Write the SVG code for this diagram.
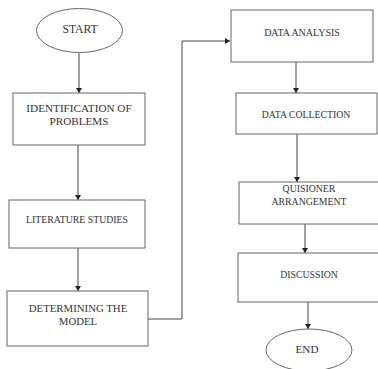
<svg xmlns="http://www.w3.org/2000/svg" width="378" height="369" viewBox="0 0 378 369">
<defs>
<style>
.box{fill:#fff;stroke:#666;stroke-width:1}
.t{font-family:"Liberation Serif","Times New Roman",serif;font-size:9.8px;fill:#333;text-anchor:middle}
.l{font-size:11.2px}
.c{fill:none;stroke:#444;stroke-width:1}
</style>
<marker id="ah" markerWidth="6" markerHeight="6" refX="5" refY="3" orient="auto" markerUnits="userSpaceOnUse">
<path d="M0,0 L5,3 L0,6 Z" fill="#222"/>
</marker>
</defs>
<rect width="378" height="369" fill="#fff"/>
<g id="connectors">
<line class="c" x1="79" y1="53" x2="79" y2="93" marker-end="url(#ah)"/>
<line class="c" x1="78" y1="145" x2="78" y2="200" marker-end="url(#ah)"/>
<line class="c" x1="78" y1="248" x2="78" y2="291" marker-end="url(#ah)"/>
<polyline class="c" points="148,319 182,319 182,41 230,41" marker-end="url(#ah)"/>
<line class="c" x1="296" y1="62" x2="296" y2="93" marker-end="url(#ah)"/>
<line class="c" x1="297" y1="134" x2="297" y2="182" marker-end="url(#ah)"/>
<line class="c" x1="305" y1="224" x2="305" y2="253" marker-end="url(#ah)"/>
<line class="c" x1="308" y1="302" x2="308" y2="329" marker-end="url(#ah)"/>
</g>
<g id="start">
<ellipse class="box" cx="79.5" cy="30.5" rx="43" ry="22"/>
<text class="t" x="80" y="33" style="font-size:11.6px">START</text>
</g>
<g id="identification">
<rect class="box" x="13" y="93" width="132" height="52"/>
<text class="t l" x="79" y="112">IDENTIFICATION OF</text>
<text class="t l" x="79" y="125">PROBLEMS</text>
</g>
<g id="literature">
<rect class="box" x="9" y="200" width="136" height="48"/>
<text class="t" x="77" y="223">LITERATURE STUDIES</text>
</g>
<g id="model">
<rect class="box" x="7" y="291" width="141" height="55"/>
<text class="t" x="78" y="312" style="font-size:10.8px">DETERMINING THE</text>
<text class="t" x="78" y="325" style="font-size:10.8px">MODEL</text>
</g>
<g id="analysis">
<rect class="box" x="231" y="10" width="142" height="52"/>
<text class="t" x="302" y="36" style="font-size:10px">DATA ANALYSIS</text>
</g>
<g id="collection">
<rect class="box" x="236" y="93" width="141" height="41"/>
<text class="t" x="306" y="118">DATA COLLECTION</text>
</g>
<g id="quisioner">
<rect class="box" x="239" y="182" width="145" height="42"/>
<text class="t" x="309" y="192">QUISIONER</text>
<text class="t" x="309" y="205">ARRANGEMENT</text>
</g>
<g id="discussion">
<rect class="box" x="238" y="253" width="146" height="49"/>
<text class="t" x="309" y="278">DISCUSSION</text>
</g>
<g id="end">
<ellipse class="box" cx="309" cy="350" rx="43" ry="21"/>
<text class="t l" x="307" y="353">END</text>
</g>
</svg>
